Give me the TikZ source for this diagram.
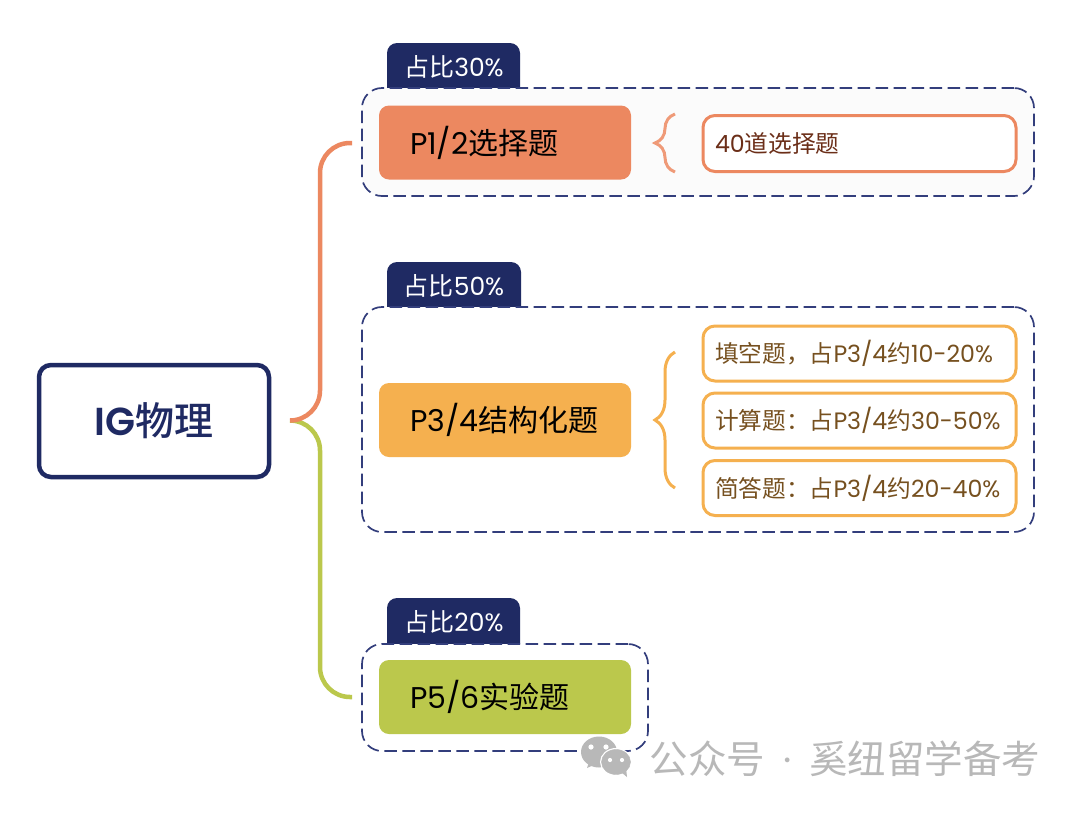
\documentclass[tikz,border=0pt]{standalone}
\usepackage{fontspec}
\setmainfont{Poppins}[BoldFont={Poppins SemiBold}]
\newfontfamily\cjk{Noto Sans CJK SC}[BoldFont={Noto Sans CJK SC Medium}]
\usetikzlibrary{decorations.pathreplacing}
\definecolor{navy}{HTML}{1F2A63}
\definecolor{dashnavy}{HTML}{333E7C}
\definecolor{coral}{HTML}{EC8860}
\definecolor{amber}{HTML}{F5B04F}
\definecolor{olive}{HTML}{BBC84C}
\definecolor{darkrust}{HTML}{6B2E18}
\definecolor{darkamber}{HTML}{76501F}
\definecolor{markgray}{HTML}{B8B8B8}
\def\zh#1{{\cjk #1}}
\def\tabhead(#1,#2,#3,#4){\fill[navy] (#1,#4) [rounded corners=10pt] -- (#1,#2) -- (#3,#2) [sharp corners] -- (#3,#4) -- cycle;}
\tikzset{
	rootbox/.style={draw=navy, line width=4.5pt, fill=white, rounded corners=12pt, minimum width=230pt, minimum height=112pt, text=navy, font=\fontsize{39}{43}\selectfont\bfseries},
	group/.style={draw=dashnavy, line width=1.7pt, dash pattern=on 12.5pt off 5.5pt, fill=#1, rounded corners=20pt},
	tabtext/.style={text=white, font=\fontsize{25}{29}\selectfont, inner sep=0pt},
	paper/.style={fill=#1, rounded corners=10pt, minimum width=252pt, minimum height=74pt, text width=190pt, font=\fontsize{30}{34}\selectfont, text=black},
	item/.style={draw=#1, line width=3pt, fill=white, rounded corners=12pt, minimum width=313pt, text width=305pt, inner xsep=2pt, inner ysep=0pt, font=\fontsize{23.7}{28}\selectfont, execute at begin node={\hspace*{8pt}}},
	branch/.style={line width=4.5pt, rounded corners=30pt},
	bracket/.style={draw=#1, line width=3pt, decorate, decoration={brace, amplitude=20pt}},
}
\begin{document}
\begin{tikzpicture}[x=1pt, y=-1pt]
	\useasboundingbox[fill=white] (0,0) rectangle (1080,815);

	%%%%% tabs and dashed groups %%%%%
	\tabhead(387,43,520,92)
	\tabhead(387,262,521,310)
	\tabhead(387,598,520,646)

	\node[group=black!1.5, minimum width=672pt, minimum height=108pt] (groupa) at (698,142) {};
	\node[group=white, minimum width=672pt, minimum height=225pt] (groupb) at (698,419.5) {};
	\node[group=white, minimum width=286pt, minimum height=107pt] (groupc) at (505,697.5) {};

	\node[tabtext] (taba) at (454,67) {\zh{占比}30\%};
	\node[tabtext] (tabb) at (454,285.5) {\zh{占比}50\%};
	\node[tabtext] (tabc) at (454,621.5) {\zh{占比}20\%};

	%%%%% root and branches %%%%%
	\node[rootbox] (root) at (154,421) {IG\zh{\bfseries 物理}};

	\coordinate (rootout) at (290,420.5);
	\coordinate (stem) at (320,420.5);
	\coordinate (ina) at (352,143);
	\coordinate (inc) at (352,697);
	\draw[branch, olive] (rootout) -- (stem) |- (inc);
	\draw[branch, coral] (rootout) -- (stem) |- (ina);

	%%%%% papers %%%%%
	\node[paper=coral] (pa) at (505,142.5) {P1/2\zh{选择题}};
	\node[paper=amber] (pb) at (505,420) {P3/4\zh{结构化题}};
	\node[paper=olive] (pc) at (505,697) {P5/6\zh{实验题}};

	%%%%% items %%%%%
	\node[item=coral, minimum height=56pt, text=darkrust] (ia) at (859.5,143.5) {40\zh{道选择题}};
	\node[item=amber, minimum height=55pt, text=darkamber] (ib) at (859.5,353.5) {\zh{填空题，占}P3/4\zh{约}10-20\%};
	\node[item=amber, minimum height=55pt, text=darkamber] (ic) at (859.5,420.5) {\zh{计算题：占}P3/4\zh{约}30-50\%};
	\node[item=amber, minimum height=55pt, text=darkamber] (id) at (859.5,488) {\zh{简答题：占}P3/4\zh{约}20-40\%};

	\coordinate (bracetopa) at (675,114);
	\coordinate (bracebota) at (675,172);
	\coordinate (bracetopb) at (675,352);
	\coordinate (bracebotb) at (675,488);
	\draw[bracket=coral!85] (bracebota) -- (bracetopa);
	\draw[bracket=amber] (bracebotb) -- (bracetopb);

	%%%%% account mark %%%%%
	\fill[markgray] (599,752) ellipse (18pt and 15.5pt);
	\fill[markgray] (589,762) -- (587,768) -- (596,764) -- cycle;
	\draw[markgray, fill=markgray, preaction={draw=white, line width=3pt}] (616,762) ellipse (14.5pt and 12.5pt);
	\fill[markgray] (621,772) -- (627,777) -- (626,768) -- cycle;
	\fill[white] (591,747) circle (2.6pt) (606,747) circle (2.6pt) (610,760) circle (2.1pt) (622,760) circle (2.1pt);
	\node[anchor=west, inner sep=0pt, text=markgray, font=\fontsize{38.5}{42}\selectfont] (account) at (649.5,759) {\zh{公众号}\hspace{18pt}·\hspace{18pt}\zh{奚纽留学备考}};
\end{tikzpicture}
\end{document}
